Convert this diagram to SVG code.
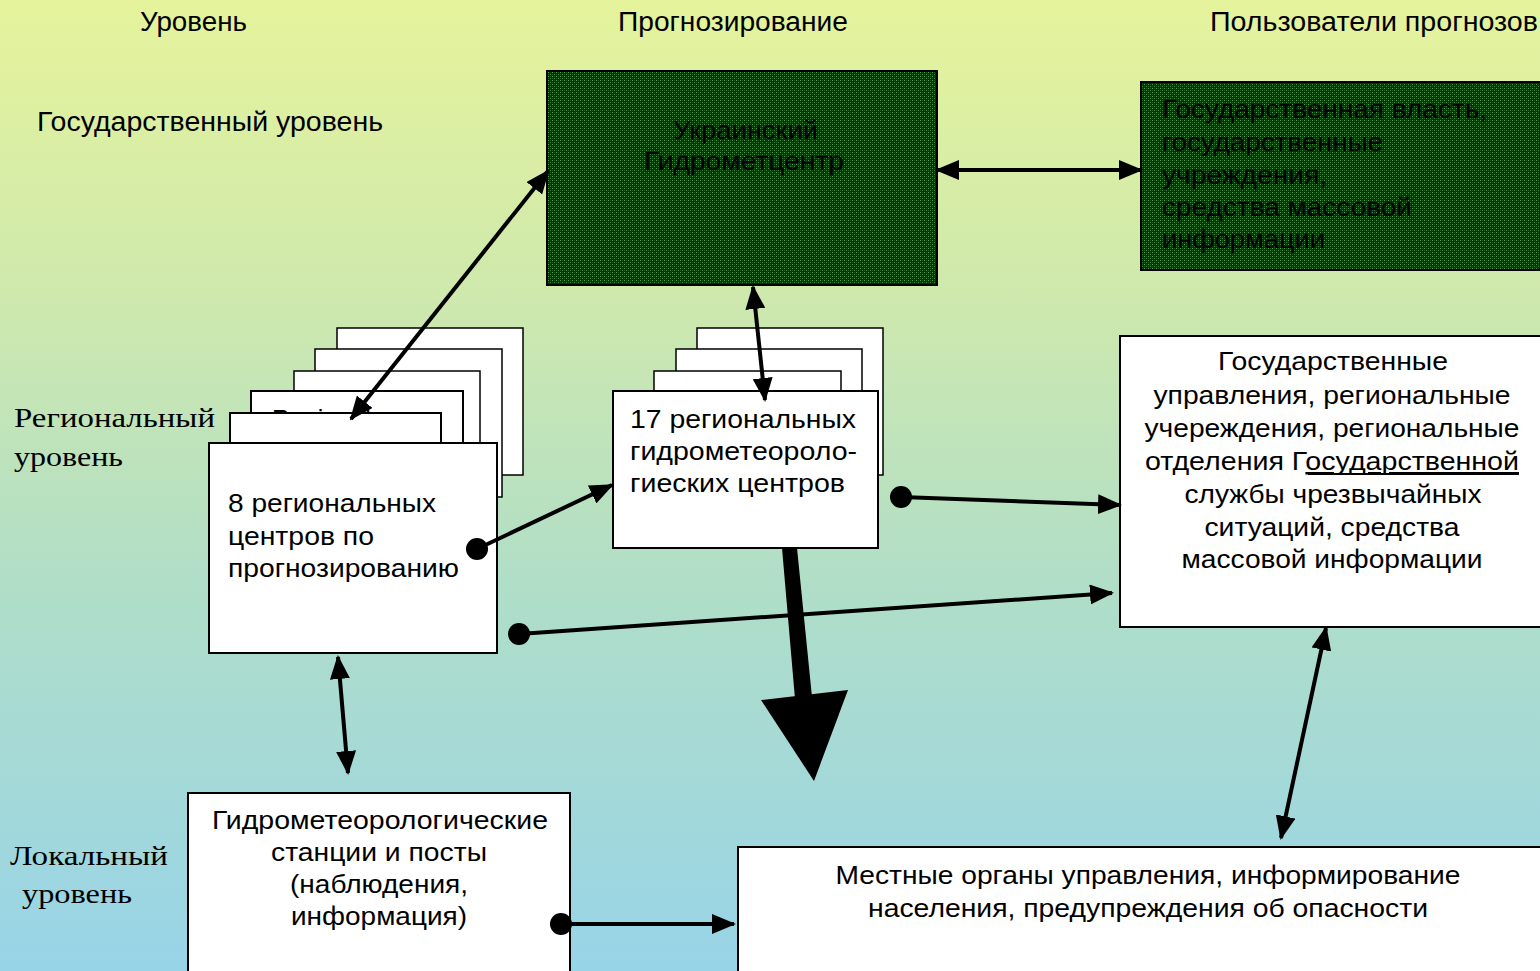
<svg xmlns="http://www.w3.org/2000/svg" width="1540" height="971" viewBox="0 0 1540 971">
<defs>
<linearGradient id="bg" x1="0" y1="0" x2="0" y2="1">
<stop offset="0" stop-color="#e5f39b"/>
<stop offset="0.3" stop-color="#cfe9ad"/>
<stop offset="0.6" stop-color="#b0dec7"/>
<stop offset="1" stop-color="#98d4e8"/>
</linearGradient>
<pattern id="dots" width="4" height="4" patternUnits="userSpaceOnUse">
<rect width="4" height="4" fill="#0c2a0c"/>
<rect x="0" y="0" width="1" height="1" fill="#4ca04c"/>
<rect x="2" y="2" width="1" height="1" fill="#3c883c"/>
<rect x="2" y="0" width="1" height="1" fill="#1d561d"/>
<rect x="0" y="2" width="1" height="1" fill="#1d561d"/>
</pattern>
<marker id="ah" markerUnits="userSpaceOnUse" markerWidth="24" markerHeight="20" viewBox="0 0 24 20" refX="22" refY="10" orient="auto-start-reverse">
<path d="M0,0 L24,10 L0,20 z" fill="#000"/>
</marker>
<style>
.hdr{font-family:"Liberation Sans",Arial,sans-serif;font-size:27px;fill:#000}
.t{font-family:"Liberation Sans",Arial,sans-serif;font-size:25px;fill:#000}
.tc{font-family:"Liberation Sans",Arial,sans-serif;font-size:25px;fill:#000;text-anchor:middle}
.sr{font-family:"Liberation Serif","Times New Roman",serif;font-size:28px;fill:#000}
.box{fill:#fff;stroke:#000;stroke-width:2}
.card{fill:#fff;stroke:#000;stroke-width:1.5}
.dark{fill:url(#dots);stroke:#000;stroke-width:2}
.dk{font-family:"Liberation Sans",Arial,sans-serif;font-size:25px;fill:#000}
.ln{stroke:#000;stroke-width:4;fill:none}
.dot{fill:#000}
</style>
</defs>
<rect width="1540" height="971" fill="url(#bg)"/>

<g id="labels">
<text class="hdr" x="140" y="31" textLength="107" lengthAdjust="spacingAndGlyphs">Уровень</text>
<text class="hdr" x="618" y="31" textLength="230" lengthAdjust="spacingAndGlyphs">Прогнозирование</text>
<text class="hdr" x="1210" y="31" textLength="328" lengthAdjust="spacingAndGlyphs">Пользователи прогнозов</text>
<text class="hdr" x="37" y="131" textLength="346" lengthAdjust="spacingAndGlyphs">Государственный уровень</text>
<text class="sr" x="14" y="427" textLength="201" lengthAdjust="spacingAndGlyphs">Региональный</text>
<text class="sr" x="14" y="466" textLength="109" lengthAdjust="spacingAndGlyphs">уровень</text>
<text class="sr" x="10" y="865" textLength="158" lengthAdjust="spacingAndGlyphs">Локальный</text>
<text class="sr" x="22" y="903" textLength="110" lengthAdjust="spacingAndGlyphs">уровень</text>
</g>

<g id="node-ugmc">
<rect class="dark" x="547" y="71" width="390" height="214"/>
<text class="dk" x="673" y="139" textLength="145" lengthAdjust="spacingAndGlyphs">Украинский</text>
<text class="dk" x="644" y="170" textLength="200" lengthAdjust="spacingAndGlyphs">Гидрометцентр</text>
</g>

<g id="node-gov">
<rect class="dark" x="1141" y="82" width="400" height="188"/>
<text class="dk" x="1162" y="118" textLength="325" lengthAdjust="spacingAndGlyphs">Государственная власть,</text>
<text class="dk" x="1162" y="151" textLength="221" lengthAdjust="spacingAndGlyphs">государственные</text>
<text class="dk" x="1162" y="184" textLength="165" lengthAdjust="spacingAndGlyphs">учреждения,</text>
<text class="dk" x="1162" y="216" textLength="250" lengthAdjust="spacingAndGlyphs">средства массовой</text>
<text class="dk" x="1162" y="248" textLength="163" lengthAdjust="spacingAndGlyphs">информации</text>
</g>

<g id="node-8rc">
<rect class="card" x="337" y="328" width="186" height="147"/>
<rect class="card" x="315" y="349" width="187" height="148"/>
<rect class="card" x="294" y="371" width="186" height="120"/>
<rect class="box" x="251" y="391" width="212" height="100"/>
<text class="t" x="272" y="428">Regional</text>
<rect class="box" x="230" y="413" width="211" height="80"/>
<rect class="box" x="209" y="443" width="288" height="210"/>
<text class="t" x="228" y="512" textLength="208" lengthAdjust="spacingAndGlyphs">8 региональных</text>
<text class="t" x="228" y="545" textLength="146" lengthAdjust="spacingAndGlyphs">центров по</text>
<text class="t" x="228" y="577" textLength="231" lengthAdjust="spacingAndGlyphs">прогнозированию</text>
</g>

<g id="node-17rc">
<rect class="card" x="697" y="328" width="186" height="147"/>
<rect class="card" x="676" y="349" width="186" height="120"/>
<rect class="card" x="654" y="371" width="187" height="100"/>
<rect class="box" x="613" y="391" width="265" height="157"/>
<text class="t" x="630" y="428" textLength="226" lengthAdjust="spacingAndGlyphs">17 региональных</text>
<text class="t" x="630" y="460" textLength="227" lengthAdjust="spacingAndGlyphs">гидрометеороло-</text>
<text class="t" x="630" y="492" textLength="215" lengthAdjust="spacingAndGlyphs">гиеских центров</text>
</g>

<g id="node-regusers">
<rect class="box" x="1120" y="336" width="422" height="291"/>
<text class="tc" x="1333" y="370" textLength="230" lengthAdjust="spacingAndGlyphs">Государственные</text>
<text class="tc" x="1332" y="404" textLength="357" lengthAdjust="spacingAndGlyphs">управления, региональные</text>
<text class="tc" x="1332" y="437" textLength="375" lengthAdjust="spacingAndGlyphs">учереждения, региональные</text>
<text class="t" x="1145" y="470" textLength="374" lengthAdjust="spacingAndGlyphs">отделения Г<tspan text-decoration="underline">осударственной</tspan></text>
<line x1="1308" y1="474" x2="1519" y2="474" stroke="#000" stroke-width="2"/>
<text class="tc" x="1333" y="503" textLength="297" lengthAdjust="spacingAndGlyphs">службы чрезвычайных</text>
<text class="tc" x="1332" y="536" textLength="255" lengthAdjust="spacingAndGlyphs">ситуаций, средства</text>
<text class="tc" x="1332" y="568" textLength="301" lengthAdjust="spacingAndGlyphs">массовой информации</text>
</g>

<g id="node-stations">
<rect class="box" x="188" y="793" width="382" height="190"/>
<text class="tc" x="380" y="829" textLength="336" lengthAdjust="spacingAndGlyphs">Гидрометеорологические</text>
<text class="tc" x="379" y="861" textLength="216" lengthAdjust="spacingAndGlyphs">станции и посты</text>
<text class="tc" x="379" y="893" textLength="178" lengthAdjust="spacingAndGlyphs">(наблюдения,</text>
<text class="tc" x="379" y="925" textLength="176" lengthAdjust="spacingAndGlyphs">информация)</text>
</g>

<g id="node-local">
<rect class="box" x="738" y="847" width="812" height="140"/>
<text class="tc" x="1148" y="884" textLength="625" lengthAdjust="spacingAndGlyphs">Местные органы управления, информирование</text>
<text class="tc" x="1148" y="917" textLength="560" lengthAdjust="spacingAndGlyphs">населения, предупреждения об опасности</text>
</g>

<g id="connectors">
<line class="ln" x1="548" y1="171" x2="351" y2="419" marker-start="url(#ah)" marker-end="url(#ah)"/>
<line class="ln" x1="937" y1="170" x2="1141" y2="170" marker-start="url(#ah)" marker-end="url(#ah)"/>
<line class="ln" x1="753" y1="287" x2="765" y2="400" marker-start="url(#ah)" marker-end="url(#ah)"/>
<circle class="dot" cx="477" cy="549" r="11"/>
<line class="ln" x1="477" y1="549" x2="612" y2="485" marker-end="url(#ah)"/>
<circle class="dot" cx="901" cy="497" r="11"/>
<line class="ln" x1="901" y1="497" x2="1120" y2="505" marker-end="url(#ah)"/>
<circle class="dot" cx="519" cy="634" r="11"/>
<line class="ln" x1="519" y1="634" x2="1112" y2="593" marker-end="url(#ah)"/>
<polygon points="782,548 797,548 812,697 795,699" fill="#000"/>
<polygon points="761,700 848,690 814,781" fill="#000"/>
<line class="ln" x1="338" y1="657" x2="348" y2="773" marker-start="url(#ah)" marker-end="url(#ah)"/>
<line class="ln" x1="1326" y1="628" x2="1281" y2="838" marker-start="url(#ah)" marker-end="url(#ah)"/>
<circle class="dot" cx="561" cy="924" r="11"/>
<line class="ln" x1="561" y1="924" x2="734" y2="924" marker-end="url(#ah)"/>
</g>
</svg>
